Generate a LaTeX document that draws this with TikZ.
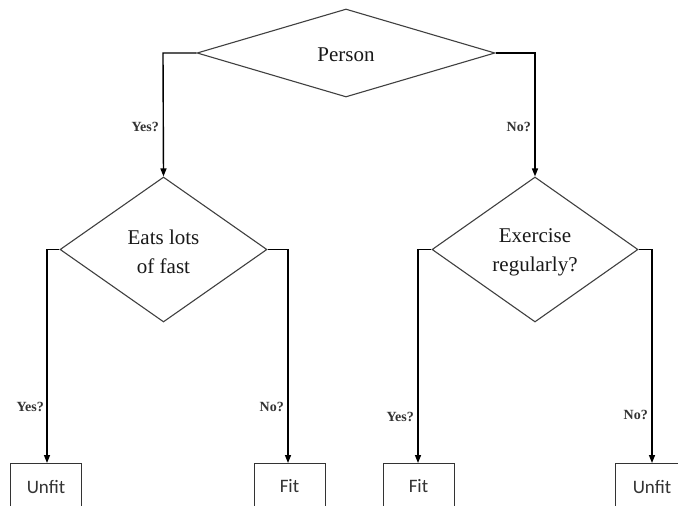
\documentclass[tikz,border=0pt]{standalone}
\usepackage{fontspec}
\setmainfont{Liberation Serif}
\newfontfamily\diafont{Liberation Serif}
\newfontfamily\boxfont{Carlito}
\usetikzlibrary{shapes.geometric,arrows.meta}
\begin{document}
\begin{tikzpicture}[x=1pt,y=-1pt,
  dec/.style={shape=diamond,draw=black!75,line width=1.1pt,inner sep=0pt,fill=white},
  dtext/.style={font=\diafont\fontsize{21}{29}\selectfont,align=center,text=black!90},
  leaf/.style={draw=black!80,line width=1pt,minimum width=71pt,minimum height=46pt,inner sep=0pt,font=\boxfont\fontsize{19}{20}\selectfont,text=black!80},
  conn/.style={draw=black,line width=1.4pt,-{Triangle[length=8pt,width=6pt]}},
  lab/.style={font=\diafont\bfseries\fontsize{14}{15}\selectfont,anchor=east,inner sep=0pt,text=black!80}]
\clip (0,0) rectangle (678,506);
\fill[white] (0,0) rectangle (678,506);
% decisions
\node[dec,minimum width=298pt,minimum height=88pt] (person) at (346,53) {};
\node[dtext] (persont) at (346,55) {Person};
\node[dec,minimum width=207pt,minimum height=145pt] (eats) at (163.5,249.5) {};
\node[dtext] (eatst) at (163.5,252) {Eats lots\\of fast};
\node[dec,minimum width=206pt,minimum height=145pt] (exer) at (535,249.5) {};
\node[dtext] (exert) at (535,252) {Exercise\\regularly?};
% leaves
\node[leaf,anchor=north] (unfit1) at (46,463) {Unfit};
\node[leaf,anchor=north] (fit1) at (289.5,463) {Fit};
\node[leaf,anchor=north] (fit2) at (418.5,463) {Fit};
\node[leaf,anchor=north,minimum width=73pt] (unfit2) at (652,463) {Unfit};
% bend points
\coordinate (p1) at (163,53);
\coordinate (p2) at (535,53);
\coordinate (e1) at (47,249.5);
\coordinate (e2) at (288,249.5);
\coordinate (x1) at (418,249.5);
\coordinate (x2) at (652,249.5);
% connectors
\draw[conn] (person.west) -- (p1) -- (eats.north);
\draw[conn] (person.east) -- (p2) -- (exer.north);
\draw[conn] (eats.west) -- (e1) -- (e1 |- unfit1.north);
\draw[conn] (eats.east) -- (e2) -- (e2 |- fit1.north);
\draw[conn] (exer.west) -- (x1) -- (x1 |- fit2.north);
\draw[conn] (exer.east) -- (x2) -- (x2 |- unfit2.north);
% labels
\node[lab] (l1) at (159,127) {Yes?};
\node[lab] (l2) at (531,127) {No?};
\node[lab] (l3) at (44,407) {Yes?};
\node[lab] (l4) at (284,407) {No?};
\node[lab] (l5) at (414,417) {Yes?};
\node[lab] (l6) at (648,415) {No?};
\end{tikzpicture}
\end{document}
